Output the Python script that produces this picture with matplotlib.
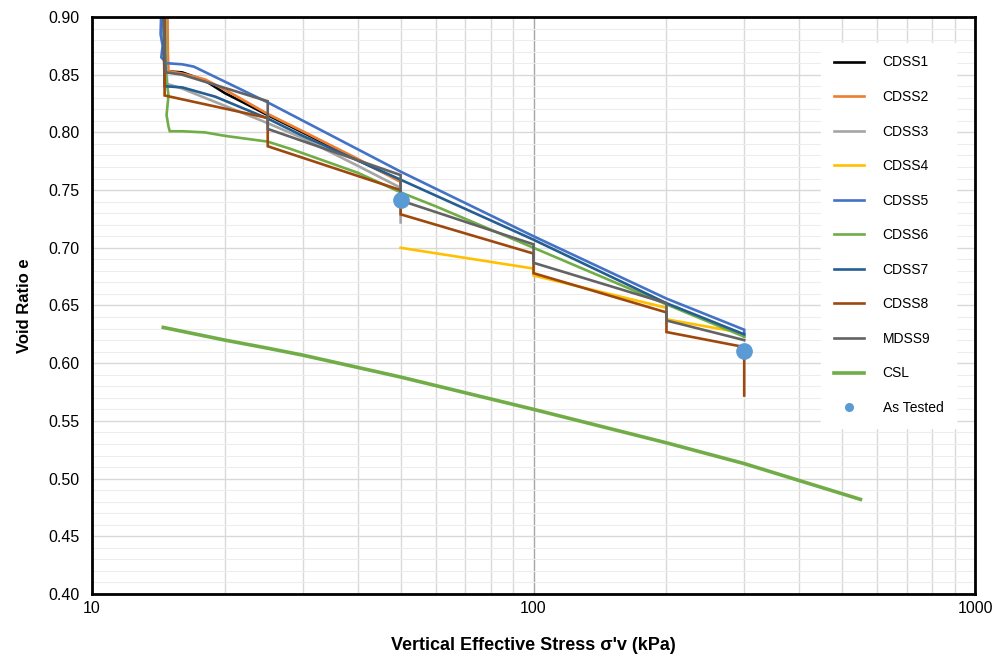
import matplotlib
matplotlib.use("Agg")
import matplotlib.pyplot as plt
from matplotlib.ticker import LogLocator, MultipleLocator, FixedLocator, NullFormatter
import numpy as np

plt.rcParams['font.family'] = ['Liberation Sans', 'DejaVu Sans']

# data (stress in kPa, void ratio e)
cdss1_s = [14.5, 14.6, 14.7, 16, 18, 20, 22, 25, 30, 40, 50, 50]
cdss1_e = [0.93, 0.88, 0.853, 0.852, 0.845, 0.834, 0.826, 0.815, 0.800, 0.776, 0.758, 0.755]

cdss2_s = [14.8, 14.85, 14.9, 16, 18, 20, 25, 30, 40, 50, 50]
cdss2_e = [0.93, 0.87, 0.853, 0.851, 0.846, 0.837, 0.816, 0.801, 0.777, 0.757, 0.753]

cdss3_s = [14.6, 14.7, 14.8, 16, 18, 20, 25, 30, 40, 50, 50]
cdss3_e = [0.93, 0.87, 0.842, 0.838, 0.830, 0.823, 0.808, 0.795, 0.771, 0.752, 0.722]

cdss4_s = [50, 100, 100, 200, 200, 290]
cdss4_e = [0.700, 0.682, 0.676, 0.648, 0.638, 0.627]

cdss5_s = [14.4, 14.3, 14.45, 14.35, 14.6, 14.7, 16, 17, 25, 50, 100, 200, 300, 300]
cdss5_e = [0.93, 0.885, 0.875, 0.865, 0.862, 0.860, 0.859, 0.857, 0.826, 0.766, 0.710, 0.656, 0.629, 0.623]

cdss6_s = [14.6, 14.7, 14.9, 14.75, 14.9, 15.0, 16, 18, 20, 25, 28, 30, 40, 50, 60, 100, 200, 300]
cdss6_e = [0.93, 0.85, 0.832, 0.815, 0.805, 0.801, 0.801, 0.800, 0.797, 0.792, 0.786, 0.782, 0.765, 0.748, 0.736, 0.700, 0.651, 0.623]

cdss7_s = [14.5, 14.55, 14.6, 16, 19, 25, 30, 50, 100, 200, 300]
cdss7_e = [0.93, 0.87, 0.840, 0.839, 0.831, 0.812, 0.797, 0.759, 0.707, 0.652, 0.625]

cdss8_s = [14.5, 14.6, 14.6, 25, 25, 50, 50, 100, 100, 200, 200, 300, 300]
cdss8_e = [0.93, 0.90, 0.832, 0.8125, 0.788, 0.750, 0.729, 0.695, 0.678, 0.644, 0.627, 0.614, 0.572]

mdss9_s = [14.4, 14.6, 14.7, 16, 25, 25, 50, 50, 100, 100, 200, 200, 300]
mdss9_e = [0.93, 0.87, 0.852, 0.850, 0.827, 0.803, 0.763, 0.741, 0.703, 0.687, 0.652, 0.637, 0.620]

csl_s = [14.5, 20, 25, 30, 50, 100, 200, 300, 550]
csl_e = [0.631, 0.620, 0.613, 0.607, 0.588, 0.560, 0.531, 0.513, 0.482]

tested_s = [50, 300]
tested_e = [0.741, 0.611]

series = [
    ("CDSS1", cdss1_s, cdss1_e, "#000000"),
    ("CDSS2", cdss2_s, cdss2_e, "#ED7D31"),
    ("CDSS3", cdss3_s, cdss3_e, "#A5A5A5"),
    ("CDSS4", cdss4_s, cdss4_e, "#FFC000"),
    ("CDSS5", cdss5_s, cdss5_e, "#4472C4"),
    ("CDSS6", cdss6_s, cdss6_e, "#70AD47"),
    ("CDSS7", cdss7_s, cdss7_e, "#255E91"),
    ("CDSS8", cdss8_s, cdss8_e, "#9E480E"),
    ("MDSS9", mdss9_s, mdss9_e, "#636363"),
]

fig = plt.figure(figsize=(9.96, 6.56), dpi=100)
ax = fig.add_axes([0.0924, 0.0945, 0.8866, 0.8796])

for name, s, e, c in series:
    ax.plot(s, e, color=c, lw=1.9, label=name, solid_joinstyle='miter')
ax.plot(csl_s, csl_e, color="#70AD47", lw=2.6, label="CSL")
ax.plot(tested_s, tested_e, 'o', color="#5B9BD5", ms=11, ls='none', label="As Tested", zorder=5)

ax.set_xscale('log')
ax.set_xlim(10, 1000)
ax.set_ylim(0.40, 0.90)

ax.xaxis.set_major_locator(FixedLocator([10, 100, 1000]))
ax.xaxis.set_major_formatter(matplotlib.ticker.FixedFormatter(["10", "100", "1000"]))
ax.xaxis.set_minor_locator(LogLocator(base=10, subs=np.arange(2, 10)))
ax.xaxis.set_minor_formatter(NullFormatter())
ax.yaxis.set_major_locator(MultipleLocator(0.05))
ax.yaxis.set_minor_locator(MultipleLocator(0.01))
ax.yaxis.set_major_formatter(matplotlib.ticker.FormatStrFormatter('%.2f'))

ax.grid(which='major', axis='x', color='#A6A6A6', lw=1.0)
ax.grid(which='minor', axis='x', color='#D9D9D9', lw=1.0)
ax.grid(which='major', axis='y', color='#D9D9D9', lw=1.0)
ax.grid(which='minor', axis='y', color='#EDEDED', lw=0.8)
ax.set_axisbelow(True)

ax.tick_params(which='both', length=0, labelsize=11.5, colors='black')
ax.tick_params(axis='x', pad=5)
ax.tick_params(axis='y', pad=9)

for sp in ax.spines.values():
    sp.set_linewidth(2.0)
    sp.set_color('black')

ax.set_xlabel("Vertical Effective Stress σ'v (kPa)", fontsize=13, fontweight='bold', labelpad=15)
ax.set_ylabel("Void Ratio e", fontsize=12, fontweight='bold', labelpad=12)

leg = ax.legend(loc='upper left', bbox_to_anchor=(0.826, 0.955), frameon=True,
                fontsize=10, labelspacing=1.48, handlelength=2.2, handletextpad=1.3,
                markerscale=0.5, borderpad=0.9, fancybox=False, borderaxespad=0)
leg.get_frame().set_facecolor('white')
leg.get_frame().set_edgecolor('white')
leg.get_frame().set_alpha(1.0)

plt.savefig("out.png", dpi=100)
